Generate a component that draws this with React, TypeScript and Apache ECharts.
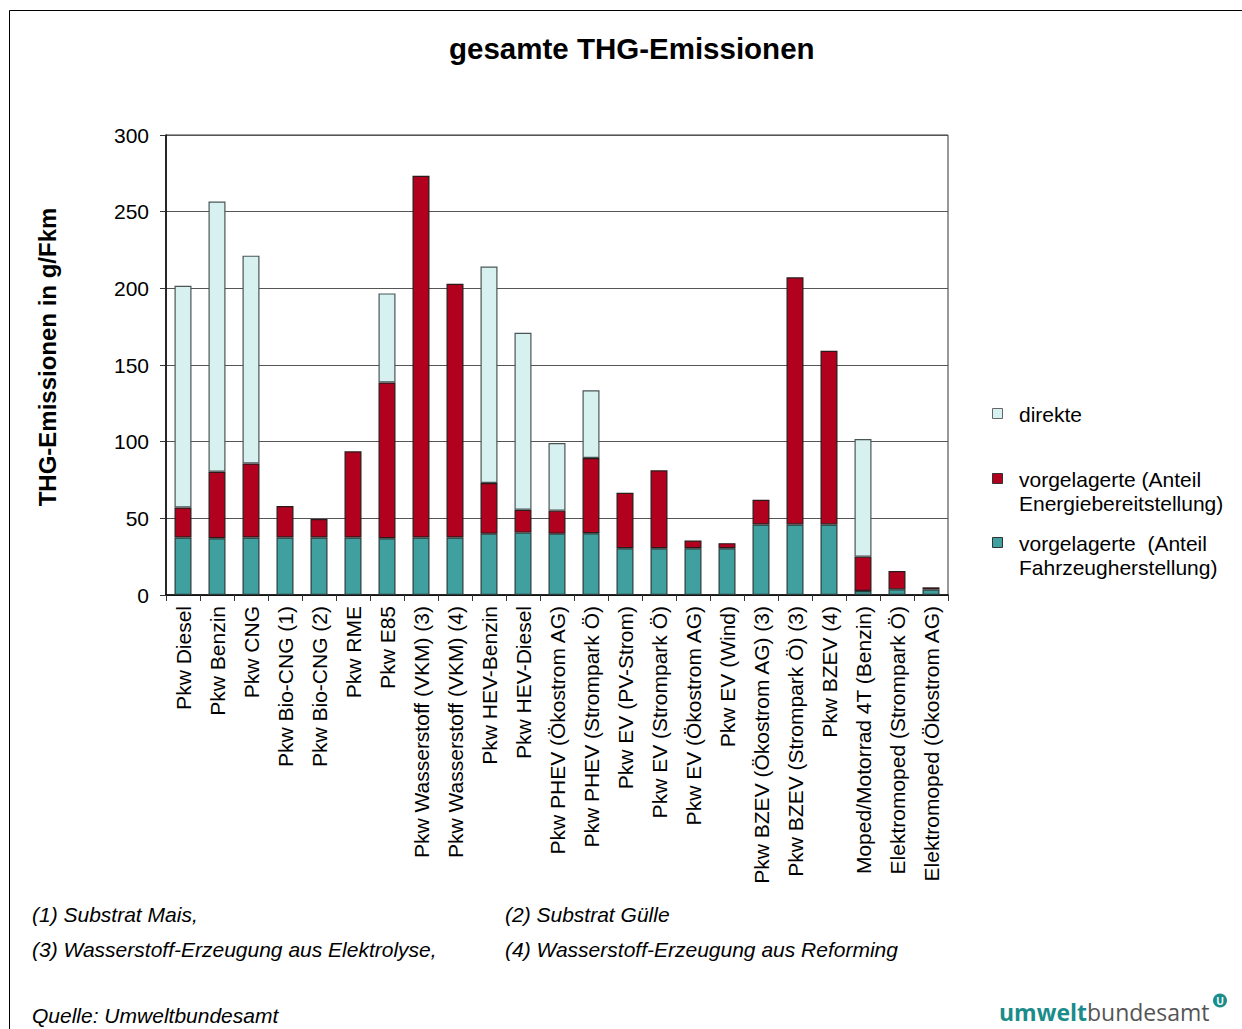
import React, { useEffect, useRef } from "react";
import * as echarts from "echarts";

const categories = [
  "Pkw Diesel",
  "Pkw Benzin",
  "Pkw CNG",
  "Pkw Bio-CNG (1)",
  "Pkw Bio-CNG (2)",
  "Pkw RME",
  "Pkw E85",
  "Pkw Wasserstoff (VKM) (3)",
  "Pkw Wasserstoff (VKM) (4)",
  "Pkw HEV-Benzin",
  "Pkw HEV-Diesel",
  "Pkw PHEV (Ökostrom AG)",
  "Pkw PHEV (Strompark Ö)",
  "Pkw EV (PV-Strom)",
  "Pkw EV (Strompark Ö)",
  "Pkw EV (Ökostrom AG)",
  "Pkw EV (Wind)",
  "Pkw BZEV (Ökostrom AG) (3)",
  "Pkw BZEV (Strompark Ö) (3)",
  "Pkw BZEV (4)",
  "Moped/Motorrad 4T (Benzin)",
  "Elektromoped (Strompark Ö)",
  "Elektromoped (Ökostrom AG)",
];

// vorgelagerte (Anteil Fahrzeugherstellung)
const fahrzeug = [37.5, 37, 37.5, 37.5, 37.5, 37.5, 37, 37.5, 37.5, 40, 40.7, 40, 40.3, 30.5, 30.5, 30.5, 30.5, 46, 46, 46, 2.6, 3.7, 3.5];
// vorgelagerte (Anteil Energiebereitstellung)
const energie = [19.6, 43.4, 48.3, 20.5, 12, 56.2, 101.6, 235.9, 165.5, 33, 14.9, 15, 49, 36.2, 50.8, 5, 3.3, 16.1, 161.2, 113.3, 22.4, 12, 1.5];
// direkte
const direkte = [144.6, 176.2, 135.5, 0, 0, 0, 58.1, 0, 0, 141.2, 115.4, 44.1, 44.2, 0, 0, 0, 0, 0, 0, 0, 76.7, 0, 0];

const yTicks = { min: 0, max: 300, interval: 50 };

const seriesNames = [
  "vorgelagerte  (Anteil Fahrzeugherstellung)",
  "vorgelagerte (Anteil Energiebereitstellung)",
  "direkte",
];

const footnotes = [
  "(1) Substrat Mais,",
  "(2) Substrat Gülle",
  "(3) Wasserstoff-Erzeugung aus Elektrolyse,",
  "(4) Wasserstoff-Erzeugung aus Reforming",
];

const FONT = "'Liberation Sans', Arial, Helvetica, sans-serif";
const TEAL = "#40A09F";
const RED = "#B2001F";
const LIGHT = "#D7F0F0";
const LOGO = "#1A8C8A";
const LOGO_FONT = "'Open Sans', 'Noto Sans', sans-serif";

export default function App() {
  const ref = useRef<HTMLDivElement>(null);

  useEffect(() => {
    document.body.style.margin = "0";
    if (!ref.current) return;
    const chart = echarts.init(ref.current, undefined, { renderer: "svg" });

    const toData = (arr: number[]) => arr.map((v) => (v === 0 ? null : v));

    const mkSeries = (name: string, data: number[], color: string, border: string) => ({
      name,
      type: "bar",
      stack: "total",
      barWidth: "50%",
      data: toData(data),
      itemStyle: { color, borderColor: border, borderWidth: 1.2 },
      emphasis: { disabled: true },
    });

    const legendItems = [
      { y: 414, color: LIGHT, border: "#666", text: "direkte" },
      { y: 479, color: RED, border: "#333", text: "vorgelagerte (Anteil\nEnergiebereitstellung)" },
      { y: 543, color: TEAL, border: "#333", text: "vorgelagerte  (Anteil\nFahrzeugherstellung)" },
    ];

    const graphic: any[] = [
      { type: "line", shape: { x1: 9.5, y1: 10.5, x2: 1242, y2: 10.5 }, style: { stroke: "#000", lineWidth: 1 } },
      { type: "line", shape: { x1: 9.5, y1: 10.5, x2: 9.5, y2: 1029 }, style: { stroke: "#000", lineWidth: 1 } },
      {
        type: "text",
        x: 47,
        y: 357,
        rotation: Math.PI / 2,
        style: {
          text: "THG-Emissionen in g/Fkm",
          font: `bold 24px ${FONT}`,
          fill: "#000",
          align: "center",
          verticalAlign: "middle",
        },
      },
    ];
    legendItems.forEach((it) => {
      graphic.push({
        type: "rect",
        shape: { x: 992.5, y: it.y - 5.5, width: 10, height: 10 },
        style: { fill: it.color, stroke: it.border, lineWidth: 1 },
      });
      graphic.push({
        type: "text",
        x: 1019,
        y: it.y - 11,
        style: {
          text: it.text,
          font: `21px ${FONT}`,
          fill: "#000",
          lineHeight: 23.5,
          verticalAlign: "top",
        },
      });
    });
    const fnPos = [
      [32, 914],
      [505, 914],
      [32, 949],
      [505, 949],
    ];
    footnotes.forEach((t, i) => {
      graphic.push({
        type: "text",
        x: fnPos[i][0],
        y: fnPos[i][1],
        style: { text: t, font: `italic 21px ${FONT}`, fill: "#000", verticalAlign: "middle" },
      });
    });
    graphic.push({
      type: "text",
      x: 32,
      y: 1015,
      style: { text: "Quelle: Umweltbundesamt", font: `italic 21px ${FONT}`, fill: "#000", verticalAlign: "middle" },
    });
    graphic.push({
      type: "text",
      x: 999,
      y: 1012,
      style: {
        text: "{a|umwelt}{b|bundesamt}",
        verticalAlign: "middle",
        rich: {
          a: { fontFamily: LOGO_FONT, fontSize: 23, fontWeight: "bold", fill: LOGO },
          b: { fontFamily: LOGO_FONT, fontSize: 23, fontWeight: "normal", fill: "#555" },
        },
      },
    });
    graphic.push({
      type: "circle",
      shape: { cx: 1220, cy: 1000.5, r: 7 },
      style: { fill: LOGO },
    });
    graphic.push({
      type: "text",
      x: 1220,
      y: 1001,
      style: {
        text: "U",
        font: `bold 10px ${FONT}`,
        fill: "#fff",
        align: "center",
        verticalAlign: "middle",
      },
    });

    chart.setOption({
      animation: false,
      backgroundColor: "#fff",
      textStyle: { fontFamily: FONT },
      title: {
        text: "gesamte THG-Emissionen",
        left: 444,
        top: 28,
        textStyle: { fontSize: 29.5, fontWeight: "bold", color: "#000", fontFamily: FONT },
      },
      grid: {
        left: 166,
        right: 294,
        top: 135,
        bottom: 434,
        show: true,
        borderColor: "#333",
        borderWidth: 1,
        backgroundColor: "transparent",
      },
      xAxis: {
        type: "category",
        data: categories,
        axisLine: { lineStyle: { color: "#000", width: 1.5 } },
        axisTick: { show: true, length: 6, lineStyle: { color: "#333" } },
        axisLabel: {
          rotate: 90,
          fontSize: 21,
          color: "#000",
          margin: 11,
          interval: 0,
          fontFamily: FONT,
        },
      },
      yAxis: {
        type: "value",
        min: yTicks.min,
        max: yTicks.max,
        interval: yTicks.interval,
        axisLine: { show: true, lineStyle: { color: "#000", width: 1.5 } },
        axisTick: { show: true, length: 6, lineStyle: { color: "#333" } },
        axisLabel: { fontSize: 21, color: "#000", margin: 17, fontFamily: FONT },
        splitLine: { show: true, lineStyle: { color: "#555", width: 1 } },
      },
      series: [
        mkSeries(seriesNames[0], fahrzeug, TEAL, "#2a3a3a"),
        mkSeries(seriesNames[1], energie, RED, "#2a1a1a"),
        mkSeries(seriesNames[2], direkte, LIGHT, "#4a5555"),
      ],
      graphic,
    });

    return () => chart.dispose();
  }, []);

  return <div ref={ref} style={{ width: 1242, height: 1029 }} />;
}
